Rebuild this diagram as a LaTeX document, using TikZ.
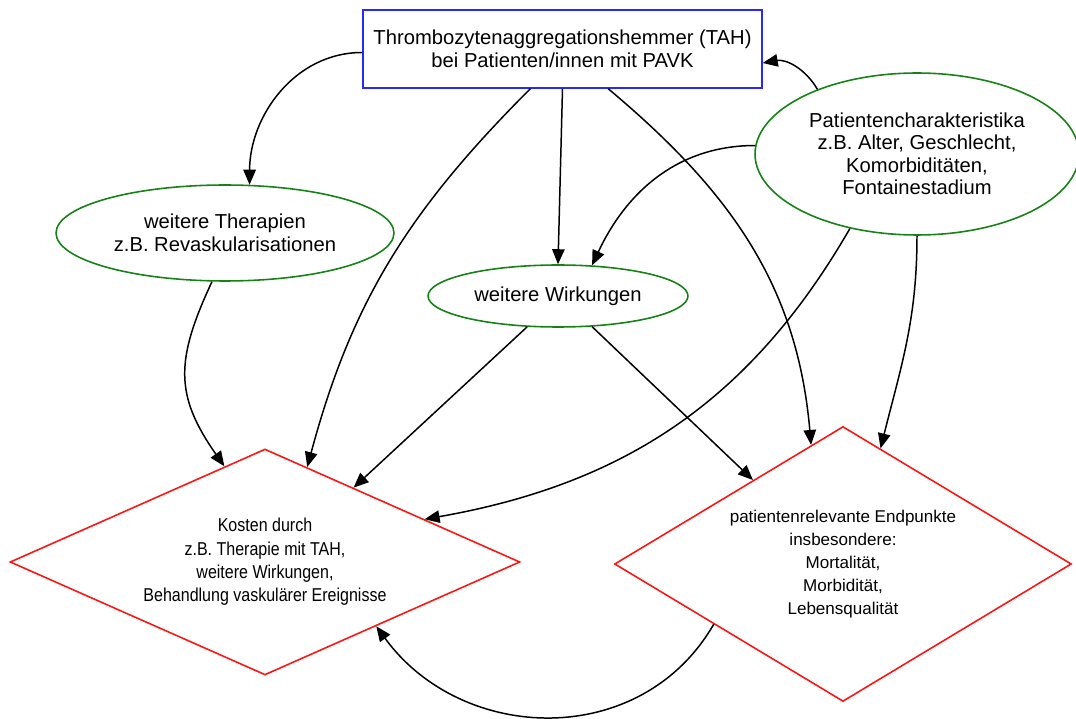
\documentclass[tikz,border=0pt]{standalone}
\usepackage{fontspec}
\setmainfont{Liberation Sans}
\newfontfamily\narrowsans[FakeStretch=0.86]{Liberation Sans}
\usetikzlibrary{arrows.meta,shapes.geometric}
\definecolor{tahblue}{RGB}{40,40,255}
\definecolor{ovalgreen}{RGB}{20,130,20}
\definecolor{zielred}{RGB}{255,20,20}

\begin{document}
\begin{tikzpicture}[x=0.02cm,y=-0.02cm,>={Triangle[length=0.3cm,width=0.25cm]},
  every node/.style={align=center,inner sep=0pt,font=\fontsize{11.5}{12.8}\selectfont},
  oval/.style={ellipse,draw=ovalgreen,line width=0.9pt},
  ziel/.style={diamond,draw=zielred,line width=0.9pt},
  pfeil/.style={->,line width=0.85pt}]
\useasboundingbox (0,0) rectangle (1076,719);
% Intervention oben
\node[draw=tahblue,line width=0.9pt,minimum width=7.98cm,minimum height=1.56cm] (tah) at (562.5,49)
  {Thrombozytenaggregationshemmer (TAH)\\bei Patienten/innen mit PAVK};
% Einflussgroessen
\node[oval,minimum width=6.76cm,minimum height=1.92cm] (ther) at (225,233)
  {weitere Therapien\\z.B. Revaskularisationen};
\node[oval,minimum width=5.2cm,minimum height=1.24cm] (wirk) at (558,296) {weitere Wirkungen};
\node[oval,minimum width=6.48cm,minimum height=3.24cm] (pat) at (917,154)
  {Patientencharakteristika\\z.B. Alter, Geschlecht,\\Komorbiditäten,\\Fontainestadium};
% Zielgroessen
\node[ziel,shape aspect=2.26,minimum width=10.2cm,minimum height=4.52cm,font=\narrowsans\fontsize{10.6}{13.3}\selectfont] (kost) at (265,562)
  {Kosten durch\\z.B. Therapie mit TAH,\\weitere Wirkungen,\\Behandlung vaskulärer Ereignisse};
\node[ziel,shape aspect=1.66,minimum width=9.14cm,minimum height=5.5cm,font=\fontsize{9.7}{13}\selectfont] (endp) at (843,564)
  {patientenrelevante Endpunkte\\insbesondere:\\Mortalität,\\Morbidität,\\Lebensqualität};
% Pfeile
\draw[pfeil] (tah.181) to[out=180,in=90] (ther.63);
\draw[pfeil] (tah.231) to[out=225,in=75] (kost.66);
\draw[pfeil] (tah.270) -- (wirk.90);
\draw[pfeil] (tah.319) to[out=320,in=95] (endp.105);
\draw[pfeil] (pat.147) to[out=120,in=10] (tah.356);
\draw[pfeil] (pat.177) to[out=180,in=65] (wirk.42);
\draw[pfeil] (pat.228) to[out=240,in=10] (kost.15);
\draw[pfeil] (pat.270) to[out=270,in=76] (endp.72);
\draw[pfeil] (ther.255) to[out=245,in=125,looseness=1.2] (kost.113);
\draw[pfeil] (wirk.225) -- (kost.40);
\draw[pfeil] (wirk.318) -- (endp.137);
\draw[pfeil] (endp.205) to[out=240,in=-54,looseness=1.1] (kost.330);
\end{tikzpicture}
\end{document}
